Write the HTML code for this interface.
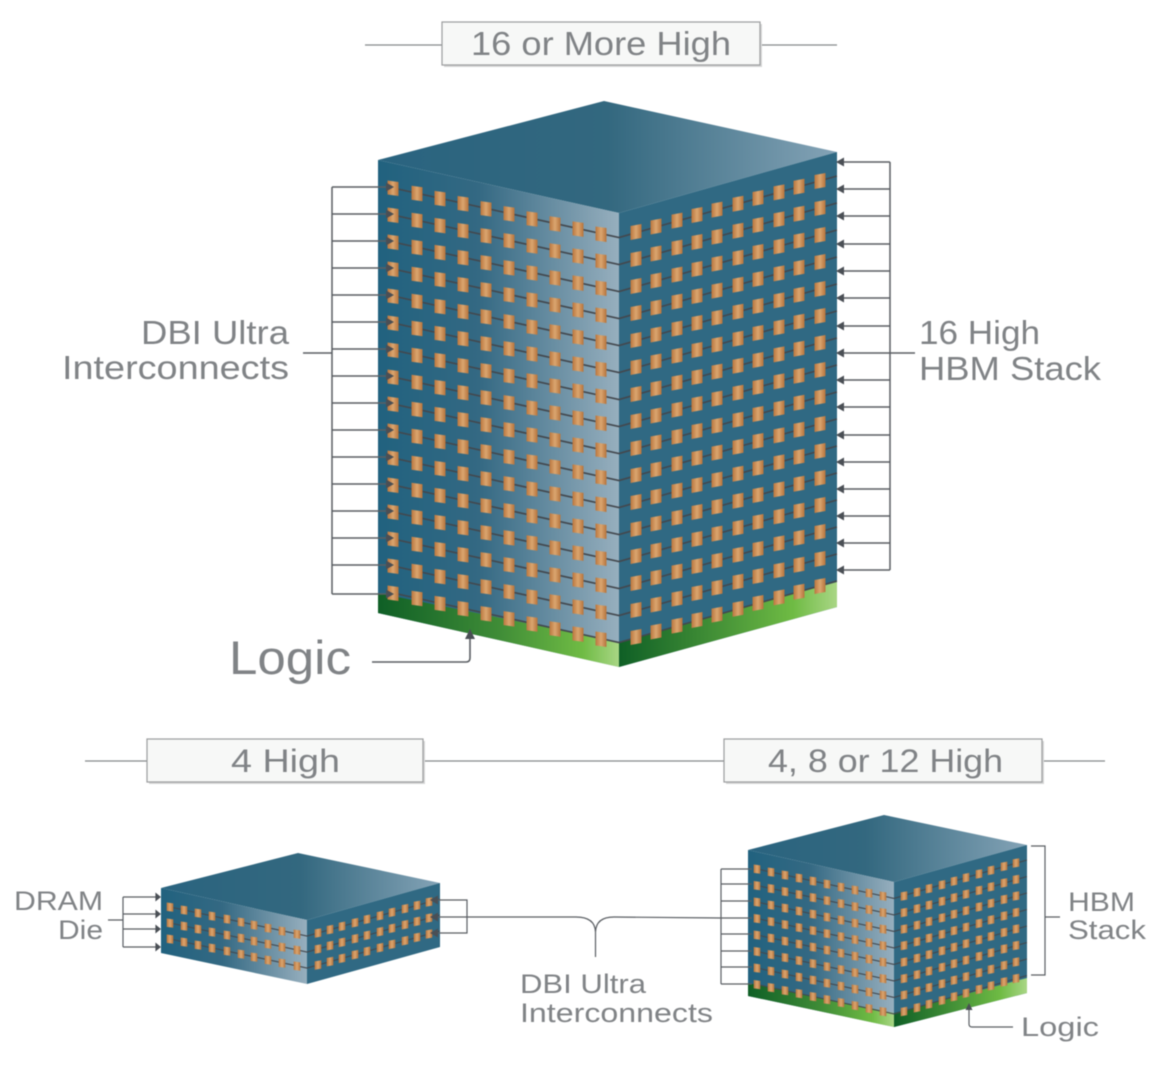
<!DOCTYPE html>
<html><head><meta charset="utf-8"><title>HBM stacks with DBI Ultra interconnects</title>
<style>
html,body{margin:0;padding:0;background:#fff;width:1165px;height:1085px;overflow:hidden}
svg{display:block;filter:blur(.65px)}
text{font-family:"Liberation Sans",sans-serif;fill:#808386}
</style></head><body>
<svg width="1165" height="1085" viewBox="0 0 1165 1085" xmlns="http://www.w3.org/2000/svg">
<defs>
<linearGradient id="pad" x1="0" x2="1" y1="0" y2="0"><stop offset="0" stop-color="#b9763f"/><stop offset=".5" stop-color="#dba66f"/><stop offset="1" stop-color="#b5733d"/></linearGradient>
<polygon id="pl" points="-5.5,-7.5 5.5,-6 5.5,8 -5.5,6.5" fill="url(#pad)"/>
<polygon id="pr" points="-5.5,-6 5.5,-8 5.5,6 -5.5,8" fill="url(#pad)"/>
<path id="al" d="M0,0 L-8,-4.5 L-8,4.5Z" fill="#4a4f55"/>
<path id="ar" d="M0,0 L8,-4.5 L8,4.5Z" fill="#4a4f55"/>

<linearGradient id="bTop" gradientUnits="userSpaceOnUse" x1="378" x2="837" y1="0" y2="0"><stop offset="0" stop-color="#2a6480"/><stop offset=".5" stop-color="#33687f"/><stop offset="1" stop-color="#84a3b6"/></linearGradient>
<linearGradient id="bLeft" gradientUnits="userSpaceOnUse" x1="378" x2="619" y1="0" y2="0"><stop offset="0" stop-color="#21627f"/><stop offset=".42" stop-color="#346983"/><stop offset="1" stop-color="#97afbe"/></linearGradient>
<linearGradient id="bGL" gradientUnits="userSpaceOnUse" x1="378" x2="619" y1="0" y2="0"><stop offset="0" stop-color="#0f5f26"/><stop offset=".5" stop-color="#3f8c37"/><stop offset=".85" stop-color="#6fbb44"/><stop offset="1" stop-color="#a9d685"/></linearGradient>
<linearGradient id="bGR" gradientUnits="userSpaceOnUse" x1="619" x2="837" y1="0" y2="0"><stop offset="0" stop-color="#0f5f26"/><stop offset=".5" stop-color="#4a9739"/><stop offset=".8" stop-color="#6fbb44"/><stop offset="1" stop-color="#a9d685"/></linearGradient>

<linearGradient id="sTop" gradientUnits="userSpaceOnUse" x1="161" x2="440" y1="0" y2="0"><stop offset="0" stop-color="#2a6480"/><stop offset=".5" stop-color="#33687f"/><stop offset="1" stop-color="#84a3b6"/></linearGradient>
<linearGradient id="sLeft" gradientUnits="userSpaceOnUse" x1="161" x2="307" y1="0" y2="0"><stop offset="0" stop-color="#21627f"/><stop offset=".42" stop-color="#346983"/><stop offset="1" stop-color="#97afbe"/></linearGradient>

<linearGradient id="tTop" gradientUnits="userSpaceOnUse" x1="748" x2="1027" y1="0" y2="0"><stop offset="0" stop-color="#2a6480"/><stop offset=".42" stop-color="#33687f"/><stop offset="1" stop-color="#84a3b6"/></linearGradient>
<linearGradient id="tLeft" gradientUnits="userSpaceOnUse" x1="748" x2="894" y1="0" y2="0"><stop offset="0" stop-color="#21627f"/><stop offset=".42" stop-color="#346983"/><stop offset="1" stop-color="#97afbe"/></linearGradient>
<linearGradient id="tGL" gradientUnits="userSpaceOnUse" x1="748" x2="894" y1="0" y2="0"><stop offset="0" stop-color="#0f5f26"/><stop offset=".5" stop-color="#3f8c37"/><stop offset=".85" stop-color="#6fbb44"/><stop offset="1" stop-color="#a9d685"/></linearGradient>
<linearGradient id="tGR" gradientUnits="userSpaceOnUse" x1="894" x2="1027" y1="0" y2="0"><stop offset="0" stop-color="#0f5f26"/><stop offset=".5" stop-color="#4a9739"/><stop offset=".8" stop-color="#6fbb44"/><stop offset="1" stop-color="#a9d685"/></linearGradient>

<g id="bRow">
<path d="M393,188 L619,237.5 L837,176" fill="none" stroke="#43484e" stroke-width="1.6"/>
<use href="#pl" x="393" y="188"/><use href="#pl" x="417" y="193.3"/><use href="#pl" x="440" y="198.4"/><use href="#pl" x="463" y="203.5"/><use href="#pl" x="486" y="208.6"/><use href="#pl" x="509" y="213.6"/><use href="#pl" x="532" y="218.7"/><use href="#pl" x="555" y="223.8"/><use href="#pl" x="578" y="228.9"/><use href="#pl" x="601" y="234"/>
<use href="#pr" x="636" y="232"/><use href="#pr" x="656" y="226.5"/><use href="#pr" x="677" y="220.6"/><use href="#pr" x="697" y="215"/><use href="#pr" x="717" y="209.6"/><use href="#pr" x="738" y="203.7"/><use href="#pr" x="758" y="198"/><use href="#pr" x="779" y="192.4"/><use href="#pr" x="799" y="186.8"/><use href="#pr" x="820" y="181"/>
</g>

<g id="sRow">
<path d="M170,907 L307,936 L440,899" fill="none" stroke="#43484e" stroke-width="1.1"/>
<g transform="translate(170,907) scale(.6)"><use href="#pl"/></g><g transform="translate(184,910) scale(.6)"><use href="#pl"/></g><g transform="translate(198,913) scale(.6)"><use href="#pl"/></g><g transform="translate(212,916) scale(.6)"><use href="#pl"/></g><g transform="translate(227,919) scale(.6)"><use href="#pl"/></g><g transform="translate(241,922) scale(.6)"><use href="#pl"/></g><g transform="translate(254,925) scale(.6)"><use href="#pl"/></g><g transform="translate(268,928) scale(.6)"><use href="#pl"/></g><g transform="translate(282,931) scale(.6)"><use href="#pl"/></g><g transform="translate(297,934) scale(.6)"><use href="#pl"/></g>
<g transform="translate(318,933) scale(.6)"><use href="#pr"/></g><g transform="translate(330,929.6) scale(.6)"><use href="#pr"/></g><g transform="translate(342,926.3) scale(.6)"><use href="#pr"/></g><g transform="translate(355,922.7) scale(.6)"><use href="#pr"/></g><g transform="translate(367,919.3) scale(.6)"><use href="#pr"/></g><g transform="translate(380,915.7) scale(.6)"><use href="#pr"/></g><g transform="translate(392,912.3) scale(.6)"><use href="#pr"/></g><g transform="translate(405,908.7) scale(.6)"><use href="#pr"/></g><g transform="translate(417,905.4) scale(.6)"><use href="#pr"/></g><g transform="translate(429,902) scale(.6)"><use href="#pr"/></g>
</g>

<g id="tRow">
<path d="M757,869 L894,898.4 L1027,860" fill="none" stroke="#43484e" stroke-width="1.1"/>
<g transform="translate(757,869) scale(.6)"><use href="#pl"/></g><g transform="translate(771,872) scale(.6)"><use href="#pl"/></g><g transform="translate(785,875) scale(.6)"><use href="#pl"/></g><g transform="translate(799,878) scale(.6)"><use href="#pl"/></g><g transform="translate(813,881) scale(.6)"><use href="#pl"/></g><g transform="translate(827,884) scale(.6)"><use href="#pl"/></g><g transform="translate(841,887) scale(.6)"><use href="#pl"/></g><g transform="translate(855,890) scale(.6)"><use href="#pl"/></g><g transform="translate(869,893) scale(.6)"><use href="#pl"/></g><g transform="translate(883,896) scale(.6)"><use href="#pl"/></g>
<g transform="translate(904,896) scale(.6)"><use href="#pr"/></g><g transform="translate(917,892.2) scale(.6)"><use href="#pr"/></g><g transform="translate(929,888.6) scale(.6)"><use href="#pr"/></g><g transform="translate(942,884.8) scale(.6)"><use href="#pr"/></g><g transform="translate(954,881.2) scale(.6)"><use href="#pr"/></g><g transform="translate(966,877.7) scale(.6)"><use href="#pr"/></g><g transform="translate(979,873.9) scale(.6)"><use href="#pr"/></g><g transform="translate(991,870.3) scale(.6)"><use href="#pr"/></g><g transform="translate(1004,866.4) scale(.6)"><use href="#pr"/></g><g transform="translate(1016,863) scale(.6)"><use href="#pr"/></g>
</g>
</defs>

<!-- header rules and boxes -->
<g stroke="#85888a" stroke-width="1.2" fill="none">
<path d="M365,45H837"/>
<path d="M85,761H1105"/>
</g>
<g fill="#d6d7d7"><rect x="444" y="24" width="318" height="43"/><rect x="149" y="741" width="276" height="43"/><rect x="726" y="741" width="318" height="43"/></g>
<g fill="#f7f8f7" stroke="#9a9c9d" stroke-width="1.2"><rect x="442" y="22" width="318" height="43"/><rect x="147" y="739" width="276" height="43"/><rect x="724" y="739" width="318" height="43"/></g>
<text x="471" y="55" font-size="33" textLength="260" lengthAdjust="spacingAndGlyphs">16 or More High</text>
<text x="231" y="772" font-size="32" textLength="109" lengthAdjust="spacingAndGlyphs">4 High</text>
<text x="768" y="772" font-size="32" textLength="235" lengthAdjust="spacingAndGlyphs">4, 8 or 12 High</text>

<!-- big cube -->
<polygon points="378,160 604,101 837,152 619,213" fill="url(#bTop)"/>
<polygon points="378,160 619,213 619,667 378,613" fill="url(#bLeft)"/>
<polygon points="619,213 837,152 837,607 619,667" fill="#306983"/>
<polygon points="378,593 619,642 619,667 378,613" fill="url(#bGL)"/>
<polygon points="619,642 837,582 837,607 619,667" fill="url(#bGR)"/>
<use href="#bRow"/><use href="#bRow" y="27"/><use href="#bRow" y="54"/><use href="#bRow" y="81"/><use href="#bRow" y="108"/><use href="#bRow" y="135"/><use href="#bRow" y="162"/><use href="#bRow" y="189"/><use href="#bRow" y="216"/><use href="#bRow" y="243"/><use href="#bRow" y="270"/><use href="#bRow" y="297"/><use href="#bRow" y="324"/><use href="#bRow" y="351"/><use href="#bRow" y="378"/><use href="#bRow" y="405"/>

<!-- big left bracket -->
<path d="M303,353H332M332,187V594M332,187H388M332,214H388M332,241H388M332,268H388M332,295H388M332,322H388M332,349H388M332,376H388M332,403H388M332,430H388M332,457H388M332,484H388M332,511H388M332,538H388M332,565H388M332,594H388" fill="none" stroke="#5a5e63" stroke-width="1.5"/>
<use href="#al" x="394" y="187"/><use href="#al" x="394" y="214"/><use href="#al" x="394" y="241"/><use href="#al" x="394" y="268"/><use href="#al" x="394" y="295"/><use href="#al" x="394" y="322"/><use href="#al" x="394" y="349"/><use href="#al" x="394" y="376"/><use href="#al" x="394" y="403"/><use href="#al" x="394" y="430"/><use href="#al" x="394" y="457"/><use href="#al" x="394" y="484"/><use href="#al" x="394" y="511"/><use href="#al" x="394" y="538"/><use href="#al" x="394" y="565"/><use href="#al" x="394" y="594"/>

<!-- big right bracket -->
<path d="M915,353H890M890,162V570M890,162H842M890,189H842M890,216H842M890,244H842M890,271H842M890,298H842M890,326H842M890,353H842M890,380H842M890,407H842M890,435H842M890,462H842M890,489H842M890,516H842M890,543H842M890,570H842" fill="none" stroke="#5a5e63" stroke-width="1.5"/>
<use href="#ar" x="836" y="162"/><use href="#ar" x="836" y="189"/><use href="#ar" x="836" y="216"/><use href="#ar" x="836" y="244"/><use href="#ar" x="836" y="271"/><use href="#ar" x="836" y="298"/><use href="#ar" x="836" y="326"/><use href="#ar" x="836" y="353"/><use href="#ar" x="836" y="380"/><use href="#ar" x="836" y="407"/><use href="#ar" x="836" y="435"/><use href="#ar" x="836" y="462"/><use href="#ar" x="836" y="489"/><use href="#ar" x="836" y="516"/><use href="#ar" x="836" y="543"/><use href="#ar" x="836" y="570"/>

<!-- big logic arrow -->
<path d="M372,662H466Q470,662 470,658V636" fill="none" stroke="#5a5e63" stroke-width="1.6"/>
<path d="M470,629 L465,639 L475,639Z" fill="#4a4f55"/>

<text x="141" y="344" font-size="33" textLength="148" lengthAdjust="spacingAndGlyphs">DBI Ultra</text>
<text x="62" y="379" font-size="33" textLength="227" lengthAdjust="spacingAndGlyphs">Interconnects</text>
<text x="919" y="344" font-size="33" textLength="121" lengthAdjust="spacingAndGlyphs">16 High</text>
<text x="919" y="380" font-size="33" textLength="182" lengthAdjust="spacingAndGlyphs">HBM Stack</text>
<text x="229" y="674" font-size="47" textLength="122" lengthAdjust="spacingAndGlyphs">Logic</text>

<!-- small cube -->
<polygon points="161,888 298,853 440,883 307,920" fill="url(#sTop)"/>
<polygon points="161,888 307,920 307,984 161,953" fill="url(#sLeft)"/>
<polygon points="307,920 440,883 440,947 307,984" fill="#306983"/>
<use href="#sRow"/><use href="#sRow" y="16"/><use href="#sRow" y="32"/>
<path d="M108,920H123M123,897V947M123,897H156M123,914H156M123,929H156M123,947H156" fill="none" stroke="#5a5e63" stroke-width="1.2"/>
<g transform="translate(161,0) scale(.7,1)"><use href="#al" y="897"/><use href="#al" y="914"/><use href="#al" y="929"/><use href="#al" y="947"/></g>
<path d="M435,900H467V933H435M435,917H576Q595,917 595.5,932V957M595.5,932Q596,917 614,917L721,918" fill="none" stroke="#5a5e63" stroke-width="1.2"/>
<use href="#ar" x="430" y="900"/><use href="#ar" x="430" y="917"/><use href="#ar" x="430" y="933"/>

<text x="14" y="910" font-size="27" textLength="89" lengthAdjust="spacingAndGlyphs">DRAM</text>
<text x="58" y="939" font-size="27" textLength="45" lengthAdjust="spacingAndGlyphs">Die</text>
<text x="520" y="993" font-size="27" textLength="126" lengthAdjust="spacingAndGlyphs">DBI Ultra</text>
<text x="520" y="1022" font-size="27" textLength="193" lengthAdjust="spacingAndGlyphs">Interconnects</text>

<!-- third cube -->
<polygon points="748,850 884,815 1027,845 894,882" fill="url(#tTop)"/>
<polygon points="748,850 894,882 894,1027 748,996" fill="url(#tLeft)"/>
<polygon points="894,882 1027,845 1027,993 894,1027" fill="#306983"/>
<polygon points="748,983 894,1013 894,1027 748,996" fill="url(#tGL)"/>
<polygon points="894,1013 1027,978 1027,993 894,1027" fill="url(#tGR)"/>
<use href="#tRow"/><use href="#tRow" y="16.5"/><use href="#tRow" y="33"/><use href="#tRow" y="49.5"/><use href="#tRow" y="66"/><use href="#tRow" y="82.5"/><use href="#tRow" y="99"/><use href="#tRow" y="115.5"/>
<path d="M721,869V984M721,869H752M721,884H752M721,901H752M721,918H752M721,934H752M721,951H752M721,967H752M721,984H752" fill="none" stroke="#5a5e63" stroke-width="1.2"/>
<path d="M1031,846H1045V975H1031M1045,917H1060" fill="none" stroke="#5a5e63" stroke-width="1.2"/>
<path d="M969,1008V1024Q969,1027 972,1027H1013" fill="none" stroke="#5a5e63" stroke-width="1.2"/>
<path d="M969,1003 L965.5,1010 L972.5,1010Z" fill="#4a4f55"/>

<text x="1068" y="911" font-size="27" textLength="67" lengthAdjust="spacingAndGlyphs">HBM</text>
<text x="1068" y="939" font-size="27" textLength="78" lengthAdjust="spacingAndGlyphs">Stack</text>
<text x="1021" y="1036" font-size="27" textLength="78" lengthAdjust="spacingAndGlyphs">Logic</text>
</svg>
</body></html>
